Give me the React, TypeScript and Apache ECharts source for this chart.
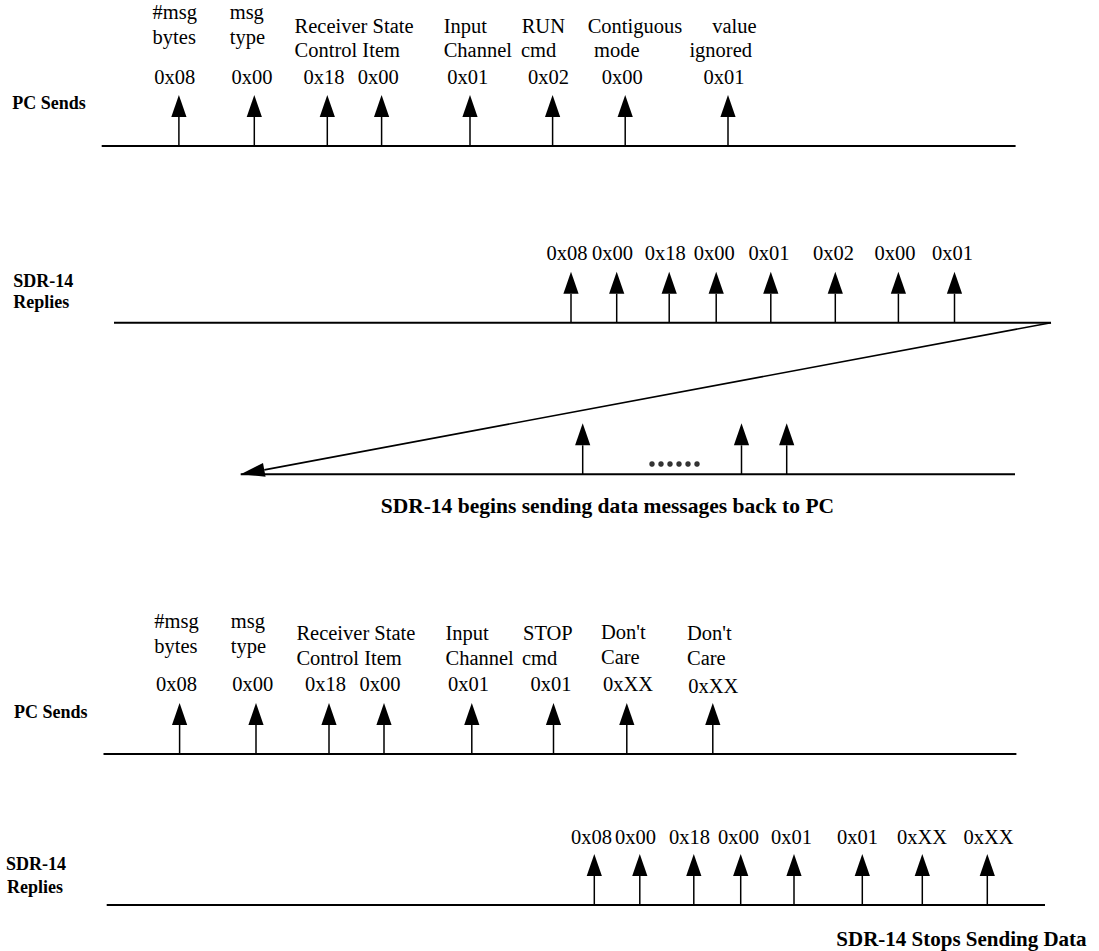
import React, { useEffect, useRef } from "react";
import * as echarts from "echarts";

const W = 1099;
const H = 951;
const SERIF = '"Liberation Serif", "Times New Roman", Times, serif';

// ---- timeline rows (baseline y, start x, end x) ----
const rowLineY = [146, 322.7, 474.3, 754, 905];
const rowLineStart = [101.7, 114, 240.7, 103.5, 106.7];
const rowLineEnd = [1015.6, 1051, 1015, 1016.4, 1045];

// ---- byte arrows on each row ----
const runSendArrowX = [178.9, 254.3, 327.3, 381.6, 470, 552.6, 625.2, 728];
const runReplyArrowX = [571, 616.7, 669.2, 716.2, 770.8, 835.3, 898.4, 954.5];
const dataArrowX = [582.7, 741.5, 786.7];
const stopSendArrowX = [179.6, 256, 329, 384, 471.8, 553.5, 626.8, 712.8];
const stopReplyArrowX = [594.3, 639.8, 693.8, 740.7, 794, 862.3, 922.3, 987.3];

// ---- byte values ----
const runBytes = ["0x08", "0x00", "0x18", "0x00", "0x01", "0x02", "0x00", "0x01"];
const stopBytes = ["0x08", "0x00", "0x18", "0x00", "0x01", "0x01", "0xXX", "0xXX"];
const runSendHexX = [154.3, 231.5, 303.4, 357.8, 447.2, 528, 601.7, 703.4];
const runReplyHexX = [546.6, 592, 644.7, 693.8, 748.4, 813, 874.6, 932];
const stopSendHexX = [156, 232.2, 305, 359.5, 448, 530.6, 603, 688.3];
const stopSendHexY = [684, 684, 684, 684, 684, 684, 684, 686];
const stopReplyHexX = [571, 615, 669, 718, 771, 837, 897, 963.5];

// ---- field names ----
const runFieldTop = ["#msg", "msg", "Receiver State", "Input", "RUN", "Contiguous", "value"];
const runFieldBottom = ["bytes", "type", "Control Item", "Channel", "cmd", "mode", "ignored"];
const runFieldTopX = [152.6, 229.7, 294.6, 443.7, 521.7, 587.7, 712.2];
const runFieldBottomX = [152.6, 229.7, 294.6, 443.7, 521, 594, 689.4];
const runFieldTopY = [11.6, 11.6, 25.6, 25.6, 25.6, 25.6, 25.6];
const runFieldBottomY = [36.6, 36.6, 50, 50, 50, 50, 50];

const stopFieldTop = ["#msg", "msg", "Receiver State", "Input", "STOP", "Don't", "Don't"];
const stopFieldBottom = ["bytes", "type", "Control Item", "Channel", "cmd", "Care", "Care"];
const stopFieldTopX = [154.3, 230.8, 296.4, 445.5, 523, 601, 687];
const stopFieldBottomX = [154.3, 230.8, 296.4, 445.5, 522, 601, 687];
const stopFieldTopY = [620.6, 620.6, 633.3, 633.3, 633.3, 631.6, 633.3];
const stopFieldBottomY = [646, 646, 658.3, 658.3, 658.3, 656.6, 658.3];

// ---- row names and captions ----
const rowLabels = ["PC Sends", "SDR-14", "Replies", "PC Sends", "SDR-14", "Replies"];
const rowLabelX = [12.3, 13.3, 13.3, 14, 6, 7];
const rowLabelY = [102.5, 280.6, 302, 711.7, 864, 886.7];
const captions = ["SDR-14 begins sending data messages back to PC", "SDR-14 Stops Sending Data"];
const captionX = [380.7, 836.3];
const captionY = [506.2, 938.5];

// ---- continuation dots and return diagonal ----
const dotX = [652, 661, 670, 679, 688, 697];
const dotY = 464;
const diagonal = [1051, 322.7, 240.7, 474.3];

const ARROW_RISE = 51;
const HEAD_LEN = 22;
const HEAD_HALF = 7.6;

type Lbl = { text: string; x: number; y: number; size: number; bold: boolean };

function buildLabels(): Lbl[] {
  const out: Lbl[] = [];
  const add = (text: string, x: number, y: number, size: number, bold: boolean) =>
    out.push({ text, x, y, size, bold });
  runFieldTop.forEach((t, i) => add(t, runFieldTopX[i], runFieldTopY[i], 20.5, false));
  runFieldBottom.forEach((t, i) => add(t, runFieldBottomX[i], runFieldBottomY[i], 20.5, false));
  runBytes.forEach((t, i) => add(t, runSendHexX[i], 76.6, 20.5, false));
  runBytes.forEach((t, i) => add(t, runReplyHexX[i], 253.3, 20.5, false));
  stopFieldTop.forEach((t, i) => add(t, stopFieldTopX[i], stopFieldTopY[i], 20.5, false));
  stopFieldBottom.forEach((t, i) => add(t, stopFieldBottomX[i], stopFieldBottomY[i], 20.5, false));
  stopBytes.forEach((t, i) => add(t, stopSendHexX[i], stopSendHexY[i], 20.5, false));
  stopBytes.forEach((t, i) => add(t, stopReplyHexX[i], 836.7, 20.5, false));
  rowLabels.forEach((t, i) => add(t, rowLabelX[i], rowLabelY[i], 18, true));
  add(captions[0], captionX[0], captionY[0], 21.5, true);
  add(captions[1], captionX[1], captionY[1], 21, true);
  return out;
}

export default function App() {
  const ref = useRef<HTMLDivElement>(null);
  useEffect(() => {
    if (!ref.current) return;
    const chart = echarts.init(ref.current, undefined, { renderer: "svg" });
    const labels = buildLabels();
    const arrows: number[][] = [];
    runSendArrowX.forEach((x) => arrows.push([x, rowLineY[0]]));
    runReplyArrowX.forEach((x) => arrows.push([x, rowLineY[1]]));
    dataArrowX.forEach((x) => arrows.push([x, rowLineY[2]]));
    stopSendArrowX.forEach((x) => arrows.push([x, rowLineY[3]]));
    stopReplyArrowX.forEach((x) => arrows.push([x, rowLineY[4]]));
    const rows = rowLineY.map((y, i) => [rowLineStart[i], y, rowLineEnd[i]]);

    chart.setOption({
      animation: false,
      backgroundColor: "#ffffff",
      grid: { left: 0, right: 0, top: 0, bottom: 0 },
      xAxis: { type: "value", min: 0, max: W, show: false },
      yAxis: { type: "value", min: 0, max: H, inverse: true, show: false },
      tooltip: { show: false },
      series: [
        {
          type: "custom",
          name: "rows",
          silent: true,
          encode: { x: [0, 2], y: 1 },
          data: rows,
          renderItem: (params: any, api: any) => {
            const a = api.coord([api.value(0), api.value(1)]);
            const b = api.coord([api.value(2), api.value(1)]);
            return {
              type: "line",
              shape: { x1: a[0], y1: a[1], x2: b[0], y2: b[1] },
              style: { stroke: "#000", lineWidth: 2 },
            };
          },
        },
        {
          type: "custom",
          name: "arrows",
          silent: true,
          encode: { x: 0, y: 1 },
          data: arrows,
          renderItem: (params: any, api: any) => {
            const x = api.value(0);
            const y = api.value(1);
            const base = api.coord([x, y]);
            const tip = api.coord([x, y - ARROW_RISE]);
            const hb = api.coord([x, y - ARROW_RISE + HEAD_LEN]);
            return {
              type: "group",
              children: [
                {
                  type: "line",
                  shape: { x1: base[0], y1: base[1], x2: hb[0], y2: hb[1] },
                  style: { stroke: "#000", lineWidth: 1.5 },
                },
                {
                  type: "polygon",
                  shape: {
                    points: [
                      [tip[0], tip[1]],
                      [tip[0] - HEAD_HALF, hb[1]],
                      [tip[0] + HEAD_HALF, hb[1]],
                    ],
                  },
                  style: { fill: "#000" },
                },
              ],
            };
          },
        },
        {
          type: "custom",
          name: "diagonal",
          silent: true,
          encode: { x: [0, 2], y: [1, 3] },
          data: [diagonal],
          renderItem: (params: any, api: any) => {
            const a = api.coord([api.value(0), api.value(1)]);
            const t = api.coord([api.value(2), api.value(3)]);
            const dx = a[0] - t[0];
            const dy = a[1] - t[1];
            const len = Math.sqrt(dx * dx + dy * dy);
            const ux = dx / len;
            const uy = dy / len;
            const hl = 24;
            const hw = 7;
            const bx = t[0] + ux * hl;
            const by = t[1] + uy * hl;
            return {
              type: "group",
              children: [
                {
                  type: "line",
                  shape: { x1: a[0], y1: a[1], x2: bx, y2: by },
                  style: { stroke: "#000", lineWidth: 1.6 },
                },
                {
                  type: "polygon",
                  shape: {
                    points: [
                      [t[0], t[1]],
                      [bx - uy * hw, by + ux * hw],
                      [bx + uy * hw, by - ux * hw],
                    ],
                  },
                  style: { fill: "#000" },
                },
              ],
            };
          },
        },
        {
          type: "scatter",
          name: "dots",
          silent: true,
          symbol: "circle",
          symbolSize: 5.5,
          itemStyle: { color: "#000" },
          data: dotX.map((x) => [x, dotY]),
        },
        {
          type: "custom",
          name: "texts",
          silent: true,
          encode: { x: 0, y: 1 },
          data: labels.map((l) => [l.x, l.y]),
          renderItem: (params: any, api: any) => {
            const l = labels[params.dataIndex];
            const p = api.coord([l.x, l.y]);
            return {
              type: "text",
              x: p[0],
              y: p[1],
              style: {
                text: l.text,
                fill: "#000",
                fontSize: l.size,
                fontFamily: SERIF,
                fontWeight: l.bold ? "bold" : "normal",
                align: "left",
                verticalAlign: "middle",
              },
            };
          },
        },
      ],
    });
    return () => chart.dispose();
  }, []);
  return (
    <div
      ref={ref}
      style={{ position: "absolute", left: 0, top: 0, width: W, height: H, background: "#fff" }}
    />
  );
}
